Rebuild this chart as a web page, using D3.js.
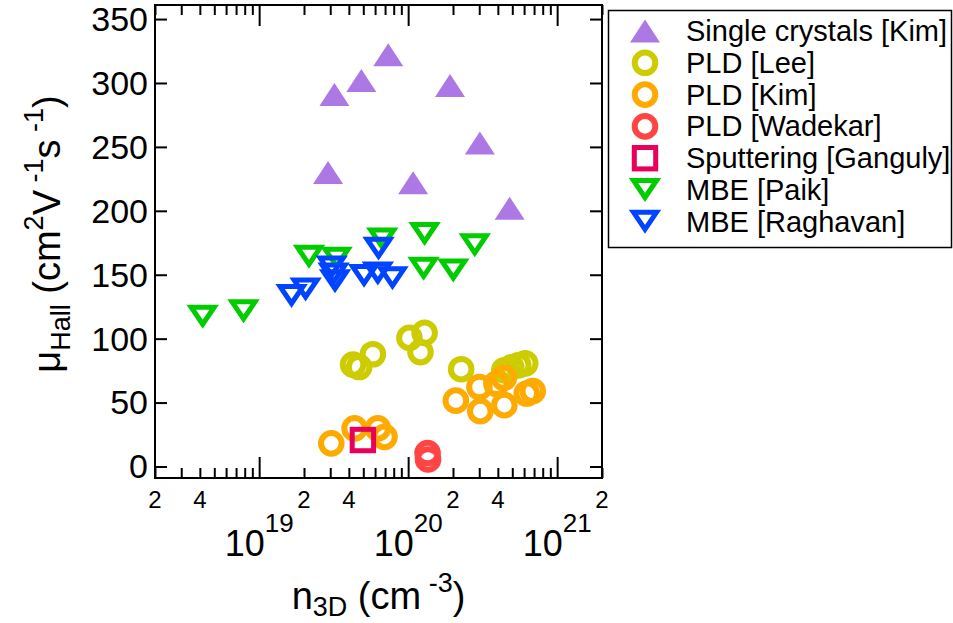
<!DOCTYPE html>
<html lang="en">
<head>
<meta charset="utf-8">
<title>Hall mobility vs carrier density</title>
<script src="https://d3js.org/d3.v7.min.js"></script>
<style>
  body { margin: 0; background: #fff; font-family: "Liberation Sans", Arial, sans-serif; }
  .axis path, .axis line { stroke: #000; stroke-width: 2px; }
</style>
</head>
<body>
<div id="chart"></div>
<script>
// series, in legend (and drawing) order
var seriesNames = ["Single crystals [Kim]", "PLD [Lee]", "PLD [Kim]", "PLD [Wadekar]",
                   "Sputtering [Ganguly]", "MBE [Paik]", "MBE [Raghavan]"];
var seriesColors = ["#ac78e4", "#cccc00", "#ffaa00", "#ff4444", "#e8005a", "#00cc00", "#0044ff"];
var seriesShapes = ["triUp", "circle", "circle", "circle", "square", "triDown", "triDown"];

var crystalN  = [2.9e19, 3.2e19, 4.85e19, 7.35e19, 1.08e20, 1.91e20, 3.03e20, 4.8e20];
var crystalMu = [230, 291, 302, 322, 222, 298, 253, 202];

var leeN  = [4.27e19, 4.69e19, 5.8e19, 1.02e20, 1.29e20, 1.21e20, 2.27e20, 4.42e20, 4.92e20, 5.48e20, 6.11e20];
var leeMu = [79.7, 77.8, 87.8, 100.6, 104.5, 89.5, 76.1, 75.3, 77.6, 79.2, 80.7];

var kimN  = [3.05e19, 4.37e19, 6.26e19, 6.94e19, 2.09e20, 3.01e20, 3.05e20, 4.42e20, 3.91e20, 4.39e20, 6.25e20, 6.86e20];
var kimMu = [18.1, 29.8, 29.8, 23.2, 51.5, 62.2, 43.3, 48, 64.7, 69.4, 57.1, 59];

var wadekarN  = [1.35e20, 1.36e20];
var wadekarMu = [10.5, 5.5];

var gangulyN  = [4.97e19];
var gangulyMu = [20.7];

var paikN  = [4.18e18, 7.86e18, 2.16e19, 3.31e19, 6.7e19, 1.29e20, 1.27e20, 2.01e20, 2.8e20];
var paikMu = [117.2, 121.4, 164, 162.6, 177.6, 181.9, 154.6, 153.3, 173];

var raghavanN  = [1.65e19, 2.05e19, 3.07e19, 3.16e19, 3.23e19, 5.06e19, 6.26e19, 6.33e19, 7.85e19];
var raghavanMu = [133.4, 138.5, 155.6, 150.2, 144.9, 149.1, 150.9, 170.4, 147.2];

var seriesN  = [crystalN, leeN, kimN, wadekarN, gangulyN, paikN, raghavanN];
var seriesMu = [crystalMu, leeMu, kimMu, wadekarMu, gangulyMu, paikMu, raghavanMu];

// ticks
var yTicks = [0, 50, 100, 150, 200, 250, 300, 350];
var xMajorTicks = [1e19, 1e20, 1e21];
var xMajorExp = ["19", "20", "21"];
var xLabelValues = [2e18, 4e18, 2e19, 4e19, 2e20, 4e20, 2e21];
var xLabelText = ["2", "4", "2", "4", "2", "4", "2"];

var w = 953, h = 623;
var plotL = 155, plotR = 602, plotT = 5, plotB = 478;

var svg = d3.select("#chart").append("svg")
    .attr("width", w)
    .attr("height", h);

var x = d3.scaleLog().domain([2e18, 2e21]).range([plotL, plotR]);
var y = d3.scaleLinear().domain([-9, 361]).range([plotB, plotT]);

// minor ticks 2..9 in every decade
var xMinorTicks = [];
[1e18, 1e19, 1e20].forEach(function (dec) {
    for (var k = 2; k <= 9; k++) {
        var v = k * dec;
        if (v >= 2e18 && v <= 2e21) xMinorTicks.push(v);
    }
});
xMinorTicks.push(2e21);

function addAxis(gen, tx, ty) {
    var g = svg.append("g").attr("class", "axis")
        .attr("transform", "translate(" + tx + "," + ty + ")")
        .call(gen);
    g.select(".domain").remove();
    return g;
}

addAxis(d3.axisBottom(x).tickValues(xMinorTicks).tickSize(-10).tickFormat(""), 0, plotB);
addAxis(d3.axisBottom(x).tickValues(xMajorTicks).tickSize(-21).tickFormat(""), 0, plotB);
addAxis(d3.axisTop(x).tickValues(xMinorTicks).tickSize(-10).tickFormat(""), 0, plotT);
addAxis(d3.axisTop(x).tickValues(xMajorTicks).tickSize(-21).tickFormat(""), 0, plotT);
addAxis(d3.axisLeft(y).tickValues(yTicks).tickSize(-12).tickFormat(""), plotL, 0);
addAxis(d3.axisRight(y).tickValues(yTicks).tickSize(-12).tickFormat(""), plotR, 0);

svg.append("rect")
    .attr("x", plotL).attr("y", plotT)
    .attr("width", plotR - plotL).attr("height", plotB - plotT)
    .attr("fill", "none").attr("stroke", "#000").attr("stroke-width", 2);

// y tick labels
svg.selectAll(".ylab").data(yTicks).enter().append("text")
    .attr("class", "ylab")
    .attr("x", plotL - 7)
    .attr("y", function (d) { return y(d); })
    .attr("dy", "0.35em")
    .attr("text-anchor", "end")
    .attr("font-size", "34px")
    .text(function (d) { return d; });

// x minor labels
svg.selectAll(".xlab").data(xLabelValues).enter().append("text")
    .attr("class", "xlab")
    .attr("x", function (d) { return x(d); })
    .attr("y", 508)
    .attr("text-anchor", "middle")
    .attr("font-size", "24px")
    .text(function (d, i) { return xLabelText[i]; });

// x decade labels
xMajorTicks.forEach(function (v, i) {
    var t = svg.append("text")
        .attr("x", x(v))
        .attr("y", 556)
        .attr("text-anchor", "middle")
        .attr("font-size", "36px");
    t.append("tspan").text("10");
    t.append("tspan").attr("font-size", "26px").attr("dy", -24).text(xMajorExp[i]);
});

// axis titles
var xt = svg.append("text")
    .attr("x", (plotL + plotR) / 2)
    .attr("y", 609)
    .attr("text-anchor", "middle")
    .attr("font-size", "38px");
xt.append("tspan").text("n");
xt.append("tspan").attr("font-size", "27px").attr("dy", 7).text("3D");
xt.append("tspan").attr("dy", -7).text(" (cm");
xt.append("tspan").attr("font-size", "27px").attr("dy", -17).text(" -3");
xt.append("tspan").attr("dy", 17).text(")");

var yt = svg.append("text")
    .attr("transform", "translate(60," + 234 + ") rotate(-90)")
    .attr("text-anchor", "middle")
    .attr("font-size", "38px");
yt.append("tspan").text("\u03bc");
yt.append("tspan").attr("font-size", "27px").attr("dy", 10).text("Hall");
yt.append("tspan").attr("dy", -10).text(" (cm");
yt.append("tspan").attr("font-size", "27px").attr("dy", -17).text("2");
yt.append("tspan").attr("dy", 17).text("V");
yt.append("tspan").attr("font-size", "27px").attr("dy", -17).text(" -1");
yt.append("tspan").attr("dy", 17).text("s");
yt.append("tspan").attr("font-size", "27px").attr("dy", -17).text(" -1");
yt.append("tspan").attr("dy", 17).text(")");

// markers
function drawMarker(g, shape, color) {
    if (shape === "triUp") {
        g.append("path").attr("d", "M-15,11.5L15,11.5L0,-11.5Z").attr("fill", color);
    } else if (shape === "triDown") {
        g.append("path").attr("d", "M-11.5,-9.5L11.5,-9.5L0,7.5Z")
            .attr("fill", "none").attr("stroke", color).attr("stroke-width", 5)
            .attr("stroke-linejoin", "miter");
    } else if (shape === "circle") {
        g.append("circle").attr("r", 10.3)
            .attr("fill", "none").attr("stroke", color).attr("stroke-width", 6);
    } else if (shape === "square") {
        g.append("rect").attr("x", -10.7).attr("y", -10.7).attr("width", 21.4).attr("height", 21.4)
            .attr("fill", "none").attr("stroke", color).attr("stroke-width", 5);
    }
}

seriesNames.forEach(function (name, s) {
    var pts = seriesN[s].map(function (n, i) { return [n, seriesMu[s][i]]; });
    svg.append("g").selectAll("g").data(pts).enter().append("g")
        .attr("transform", function (d) { return "translate(" + x(d[0]) + "," + y(d[1]) + ")"; })
        .each(function () { drawMarker(d3.select(this), seriesShapes[s], seriesColors[s]); });
});

// legend
var lg = svg.append("g");
lg.append("rect")
    .attr("x", 608.5).attr("y", 10.5).attr("width", 343).attr("height", 237)
    .attr("fill", "#fff").attr("stroke", "#000").attr("stroke-width", 1.5);
seriesNames.forEach(function (name, s) {
    var base = 41 + s * 31.8;
    var m = lg.append("g").attr("transform", "translate(645," + (base - 10) + ")");
    drawMarker(m, seriesShapes[s], seriesColors[s]);
    lg.append("text")
        .attr("x", 686).attr("y", base)
        .attr("font-size", "29px")
        .text(name);
});
</script>
</body>
</html>
